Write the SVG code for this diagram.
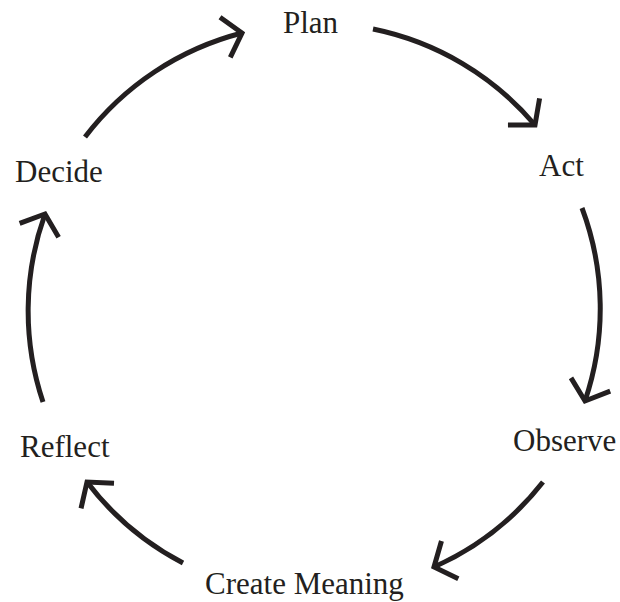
<svg xmlns="http://www.w3.org/2000/svg" width="620" height="602" viewBox="0 0 620 602">
  <style>
    .lbl { font-family: "Liberation Serif", "Times New Roman", serif; font-size: 31px; fill: #231f20; }
    .arc { fill: none; stroke: #231f20; stroke-width: 5; stroke-linecap: butt; marker-end: url(#head); }
  </style>
  <defs>
    <marker id="head" markerUnits="userSpaceOnUse" viewBox="-30 -30 40 60" refX="0" refY="0" markerWidth="40" markerHeight="60" orient="auto" overflow="visible">
      <path d="M -17.4,-20.7 L 0,0 L -17.4,20.7" fill="none" stroke="#231f20" stroke-width="5" stroke-linejoin="miter" stroke-linecap="butt"/>
    </marker>
  </defs>
  <rect width="620" height="602" fill="#ffffff"/>
  <g id="connectors">
    <path class="arc" d="M 85,137 A 287 287 0 0 1 242,33"/>
    <path class="arc" d="M 373,29 A 287 287 0 0 1 535,125"/>
    <path class="arc" d="M 582,208 A 287 287 0 0 1 585,401"/>
    <path class="arc" d="M 543,482 A 287 287 0 0 1 434,567"/>
    <path class="arc" d="M 183,563 A 287 287 0 0 1 87,482"/>
    <path class="arc" d="M 43,402 A 287 287 0 0 1 45,214"/>
  </g>
  <g id="plan"><text class="lbl" x="283" y="33">Plan</text></g>
  <g id="act"><text class="lbl" x="539" y="176">Act</text></g>
  <g id="observe"><text class="lbl" x="513" y="451">Observe</text></g>
  <g id="create-meaning"><text class="lbl" x="205" y="594">Create Meaning</text></g>
  <g id="reflect"><text class="lbl" x="20" y="457">Reflect</text></g>
  <g id="decide"><text class="lbl" x="15" y="182">Decide</text></g>
</svg>
